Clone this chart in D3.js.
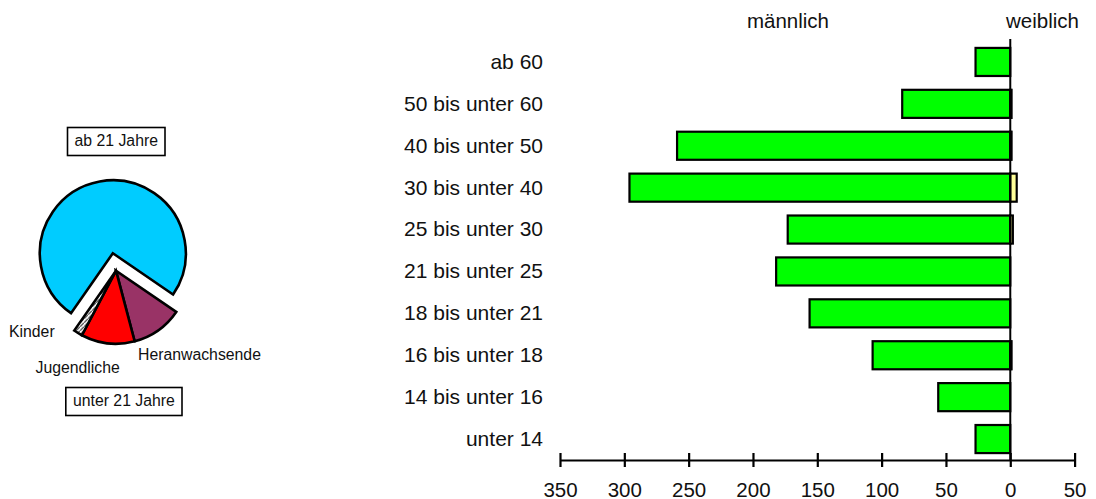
<!DOCTYPE html>
<html>
<head>
<meta charset="utf-8">
<script src="https://cdn.jsdelivr.net/npm/d3@7"></script>
<style>
  html, body { margin: 0; padding: 0; background: #fff; }
  svg { display: block; font-family: "Liberation Sans", Arial, Helvetica, sans-serif; }
</style>
</head>
<body>
<svg id="chart" width="1096" height="499"></svg>
<script>
// ---- data ----
const categories = ["ab 60", "50 bis unter 60", "40 bis unter 50", "30 bis unter 40", "25 bis unter 30",
                    "21 bis unter 25", "18 bis unter 21", "16 bis unter 18", "14 bis unter 16", "unter 14"];
const maleValues   = [27, 84, 259, 296, 173, 182, 156, 107, 56, 27];
const femaleValues = [0, 1, 1, 5, 2, 0, 0, 1, 0, 0];
const xTicks = [-350, -300, -250, -200, -150, -100, -50, 0, 50];

const pieLabels = ["Heranwachsende", "Jugendliche", "Kinder", "ab 21 Jahre"];
const pieValues = [156, 163, 27, 1030];
const pieColors = ["#993366", "#ff0000", "url(#hatch)", "#00ccff"];

const svg = d3.select("#chart");

// hatch pattern
const defs = svg.append("defs");
const pat = defs.append("pattern").attr("id", "hatch").attr("patternUnits", "userSpaceOnUse")
  .attr("width", 4).attr("height", 4);
pat.append("rect").attr("width", 4).attr("height", 4).attr("fill", "#fff");
pat.append("path").attr("d", "M0,4 L4,0").attr("stroke", "#333").attr("stroke-width", 1.2);

// ---- bar chart ----
const x = d3.scaleLinear().domain([-350, 50]).range([560, 1074.6]);
const y = d3.scaleBand().domain(categories).range([41, 460]).paddingInner(0.33).paddingOuter(0.165);

const bars = svg.append("g");
bars.selectAll("rect.m").data(categories).join("rect")
  .attr("class", "m")
  .attr("x", (d, i) => x(-maleValues[i]))
  .attr("width", (d, i) => x(0) - x(-maleValues[i]))
  .attr("y", d => y(d))
  .attr("height", y.bandwidth())
  .attr("fill", "#00ff00").attr("stroke", "#000").attr("stroke-width", 2.2);

bars.selectAll("rect.f").data(categories.filter((d, i) => femaleValues[i] > 0)).join("rect")
  .attr("class", "f")
  .attr("x", x(0))
  .attr("width", d => x(femaleValues[categories.indexOf(d)]) - x(0))
  .attr("y", d => y(d))
  .attr("height", y.bandwidth())
  .attr("fill", "#ffff99").attr("stroke", "#000").attr("stroke-width", 2.2);

// zero line
svg.append("line").attr("x1", x(0)).attr("x2", x(0)).attr("y1", 39).attr("y2", 460)
  .attr("stroke", "#000").attr("stroke-width", 2);

// category labels
svg.append("g").selectAll("text").data(categories).join("text")
  .attr("x", 543).attr("y", d => y(d) + y.bandwidth() / 2).attr("dy", "0.33em")
  .attr("text-anchor", "end").attr("font-size", 21).attr("fill", "#111").text(d => d);

// axis
const axis = d3.axisBottom(x).tickValues(xTicks).tickSizeOuter(0).tickSizeInner(7)
  .tickFormat(d => Math.abs(d));
const ax = svg.append("g").attr("transform", "translate(0,460)").call(axis);
ax.select(".domain").attr("stroke", "#000").attr("stroke-width", 2.2);
ax.selectAll(".tick line").attr("y1", -7).attr("y2", 7).attr("stroke", "#000").attr("stroke-width", 2.2);
ax.selectAll(".tick text").attr("y", 36.5).attr("dy", null).attr("font-size", 20.5)
  .attr("font-family", "Liberation Sans, Arial, sans-serif").attr("fill", "#111");

// header labels
svg.append("text").attr("x", 788).attr("y", 28).attr("text-anchor", "middle")
  .attr("font-size", 20.5).attr("fill", "#111").text("männlich");
svg.append("text").attr("x", 1042.5).attr("y", 28).attr("text-anchor", "middle")
  .attr("font-size", 20.5).attr("fill", "#111").text("weiblich");

// ---- pie ----
const cx = 116, cy = 270.7, r = 73, explode = 17.7;
const startA = 124.4 * Math.PI / 180;
const pie = d3.pie().sort(null).startAngle(startA).endAngle(startA + 2 * Math.PI);
const arcs = pie(pieValues);
const arc = d3.arc().innerRadius(0).outerRadius(r);
const pg = svg.append("g").attr("transform", `translate(${cx},${cy})`);
pg.selectAll("path").data(arcs).join("path")
  .attr("transform", (d, i) => {
    if (i !== 3) return null;
    const m = (d.startAngle + d.endAngle) / 2;
    return `translate(${explode * Math.sin(m)},${-explode * Math.cos(m)})`;
  })
  .attr("d", arc)
  .attr("fill", (d, i) => pieColors[i])
  .attr("stroke", "#000").attr("stroke-width", 2.6).attr("stroke-linejoin", "miter");

// pie labels
const pl = svg.append("g").attr("font-size", 15.8).attr("fill", "#111");
pl.append("text").attr("x", 9).attr("y", 336.5).text(pieLabels[2]);
pl.append("text").attr("x", 35.5).attr("y", 372.5).text(pieLabels[1]);
pl.append("text").attr("x", 138).attr("y", 360).text(pieLabels[0]);

// boxes
function box(x0, y0, w, h, label) {
  svg.append("rect").attr("x", x0).attr("y", y0).attr("width", w).attr("height", h)
    .attr("fill", "#fff").attr("stroke", "#000").attr("stroke-width", 1.6);
  svg.append("text").attr("x", x0 + w / 2).attr("y", y0 + h - 9.5).attr("text-anchor", "middle")
    .attr("font-size", 15.8).attr("fill", "#111").text(label);
}
box(67.5, 127.5, 97.5, 28, pieLabels[3]);
box(65.8, 387.5, 116.2, 28, "unter 21 Jahre");
</script>
</body>
</html>
